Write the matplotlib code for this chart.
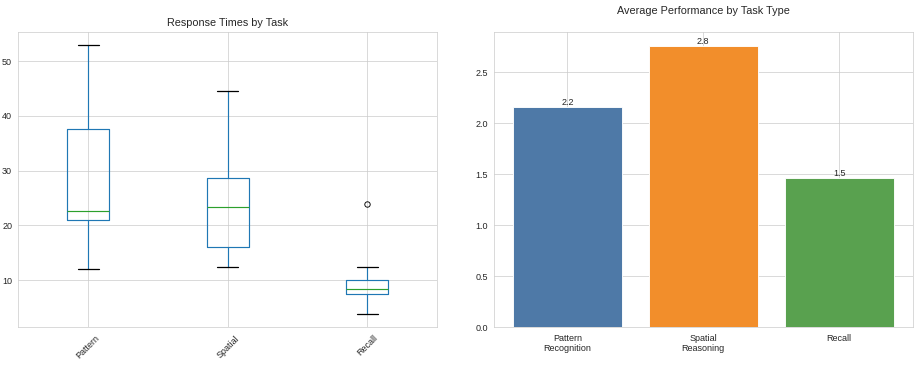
import matplotlib
matplotlib.use("Agg")
import matplotlib.pyplot as plt
import seaborn as sns

# response time summaries per task
tasks = ["Pattern", "Spatial", "Recall"]
whisker_low = [12.0, 12.3, 3.8]
q1 = [21.0, 16.0, 7.4]
median = [22.7, 23.4, 8.4]
q3 = [37.5, 28.7, 10.0]
whisker_high = [52.9, 44.5, 12.3]
outliers = [[], [], [23.9]]

# average performance per task type
task_types = ["Pattern\nRecognition", "Spatial\nReasoning", "Recall"]
avg_perf = [2.16, 2.76, 1.46]
bar_colors = ["#4e79a7", "#f28e2b", "#59a14f"]

sns.set_style("whitegrid")
plt.rcParams["font.family"] = ["Liberation Sans", "DejaVu Sans"]

DPI = 64.95
fig, (ax1, ax2) = plt.subplots(1, 2, figsize=(919 / DPI, 365 / DPI), dpi=DPI)
fig.subplots_adjust(left=0.02, right=0.993, bottom=0.103, top=0.913, wspace=0.136)

stats = []
for i, name in enumerate(tasks):
    stats.append({
        "label": name,
        "whislo": whisker_low[i],
        "q1": q1[i],
        "med": median[i],
        "q3": q3[i],
        "whishi": whisker_high[i],
        "fliers": outliers[i],
    })

bp = ax1.bxp(
    stats,
    positions=[1, 2, 3],
    flierprops={"marker": "o", "markerfacecolor": "none", "markeredgecolor": "k"},
)
for line in bp["boxes"] + bp["whiskers"]:
    line.set_color("#1f77b4")
    line.set_linewidth(1.3)
for line in bp["medians"]:
    line.set_color("#2ca02c")
    line.set_linewidth(1.3)
for line in bp["caps"]:
    line.set_color("k")
    line.set_linewidth(1.4)
ax1.set_xticks([1, 2, 3])
ax1.set_xticklabels(tasks, rotation=45)
ax1.set_title("Response Times by Task")
ax1.grid(True)

bars = ax2.bar(task_types, avg_perf, color=bar_colors)
ax2.bar_label(bars, labels=[f"{v:.1f}" for v in avg_perf])
ax2.set_title("Average Performance by Task Type", pad=20)

fig.savefig("out.png", dpi=DPI)
